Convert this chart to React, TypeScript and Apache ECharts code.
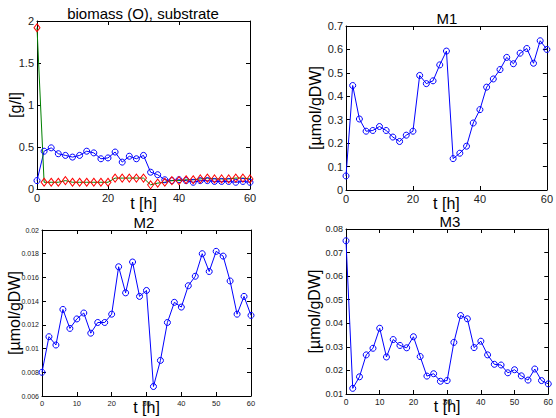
import { useEffect, useRef } from 'react';
import * as echarts from 'echarts';

// ---- data ----
const tHours = [0, 2, 4, 6, 8, 10, 12, 14, 16, 18, 20, 22, 24, 26, 28, 30, 32, 34, 36, 38, 40, 42, 44, 46, 48, 50, 52, 54, 56, 58, 60];

const biomass = [0.10, 0.45, 0.49, 0.42, 0.40, 0.38, 0.40, 0.45, 0.43, 0.36, 0.37, 0.44, 0.32, 0.39, 0.36, 0.40, 0.20, 0.17, 0.11, 0.10, 0.11, 0.10, 0.08, 0.10, 0.10, 0.09, 0.09, 0.09, 0.08, 0.09, 0.08];
const substrate = [1.92, 0.08, 0.08, 0.08, 0.10, 0.08, 0.08, 0.08, 0.08, 0.08, 0.08, 0.13, 0.13, 0.13, 0.13, 0.13, 0.05, 0.07, 0.08, 0.10, 0.10, 0.11, 0.11, 0.12, 0.13, 0.12, 0.12, 0.12, 0.13, 0.13, 0.12];
const m1 = [0.060, 0.446, 0.303, 0.251, 0.254, 0.271, 0.254, 0.226, 0.207, 0.234, 0.251, 0.489, 0.454, 0.466, 0.534, 0.593, 0.134, 0.157, 0.187, 0.286, 0.343, 0.439, 0.474, 0.514, 0.566, 0.539, 0.584, 0.604, 0.541, 0.637, 0.600];
const m2 = [0.0080, 0.0110, 0.0103, 0.0133, 0.0117, 0.0125, 0.0130, 0.0113, 0.0122, 0.0122, 0.0129, 0.0169, 0.0147, 0.0173, 0.0144, 0.0149, 0.0068, 0.0090, 0.0122, 0.0139, 0.0135, 0.0153, 0.0161, 0.0180, 0.0165, 0.0182, 0.0178, 0.0157, 0.0129, 0.0144, 0.0128];
const m3 = [0.075, 0.0124, 0.0173, 0.0266, 0.0294, 0.0379, 0.0257, 0.0331, 0.0306, 0.0296, 0.0343, 0.0259, 0.0176, 0.0186, 0.0154, 0.0157, 0.0319, 0.0433, 0.0419, 0.0297, 0.0324, 0.0266, 0.0226, 0.0223, 0.0190, 0.0203, 0.0177, 0.0159, 0.0206, 0.0157, 0.0143];

const xTicks20 = [0, 20, 40, 60];
const xTicks10 = [0, 10, 20, 30, 40, 50, 60];
const yTicksBio = [0, 0.5, 1, 1.5, 2];
const yTicksM1 = [0, 0.1, 0.2, 0.3, 0.4, 0.5, 0.6, 0.7];
const yTicksM2 = [0.006, 0.008, 0.01, 0.012, 0.014, 0.016, 0.018, 0.02];
const yTicksM3 = [0.01, 0.02, 0.03, 0.04, 0.05, 0.06, 0.07, 0.08];

const titles = ['biomass (O), substrate', 'M1', 'M2', 'M3'];
const xName = 't [h]';
const yNames = ['[g/l]', '[µmol/gDW]', '[µmol/gDW]', '[µmol/gDW]'];

// ---- layout / style ----
const FONT = '"Liberation Sans", Arial, Helvetica, sans-serif';

const panels = [
  { grid: { left: 37, top: 21, width: 213, height: 168 }, xTicks: xTicks20, yTicks: yTicksBio, xLab: 11, yLab: 11, yGap: 14, xGap: 6, dec: 1, title: { x: 143, y: 13 } },
  { grid: { left: 346, top: 26, width: 207, height: 164 }, xTicks: xTicks20, yTicks: yTicksM1, xLab: 11, yLab: 11, yGap: 23, xGap: 5, dec: 1, title: { x: 447, y: 18 } },
  { grid: { left: 42, top: 230, width: 209, height: 166 }, xTicks: xTicks10, yTicks: yTicksM2, xLab: 7.5, yLab: 7, yGap: 20, xGap: 3, dec: 3, title: { x: 144, y: 222 } },
  { grid: { left: 346, top: 229, width: 207, height: 165 }, xTicks: xTicks10, yTicks: yTicksM3, xLab: 8.5, yLab: 9, yGap: 24, xGap: 4, dec: 2, title: { x: 450, y: 221 } },
];

const tickCfg = { show: true, inside: true, length: 4, lineStyle: { color: '#000', width: 1 } };
const lineCfg = { show: true, onZero: false, lineStyle: { color: '#000', width: 1 } };

function range(ticks: number[]) {
  return { min: ticks[0], max: ticks[ticks.length - 1], interval: +(ticks[1] - ticks[0]).toFixed(6) };
}

function buildOption() {
  const xAxis: any[] = [];
  const yAxis: any[] = [];
  panels.forEach((p, i) => {
    const xr = range(p.xTicks);
    const yr = range(p.yTicks);
    xAxis.push({
      type: 'value', gridIndex: i, position: 'bottom', ...xr,
      axisLine: lineCfg, axisTick: tickCfg, splitLine: { show: false },
      axisLabel: { fontSize: p.xLab, color: '#222', margin: 3, fontFamily: FONT },
      name: xName, nameLocation: 'middle', nameGap: p.xGap, nameMoveOverlap: false,
      nameTextStyle: { fontSize: 16, color: '#000', fontFamily: FONT, verticalAlign: 'top' },
    });
    xAxis.push({
      type: 'value', gridIndex: i, position: 'top', ...xr,
      axisLine: lineCfg, axisTick: tickCfg, splitLine: { show: false }, axisLabel: { show: false },
    });
    yAxis.push({
      type: 'value', gridIndex: i, position: 'left', ...yr,
      axisLine: lineCfg, axisTick: tickCfg, splitLine: { show: false },
      axisLabel: {
        fontSize: p.yLab, color: '#222', margin: 3, fontFamily: FONT,
        formatter: (v: number) => String(+v.toFixed(p.dec)),
      },
      name: yNames[i], nameLocation: 'middle', nameGap: p.yGap, nameRotate: 90, nameMoveOverlap: false,
      nameTextStyle: { fontSize: 16, color: '#000', fontFamily: FONT },
    });
    yAxis.push({
      type: 'value', gridIndex: i, position: 'right', ...yr,
      axisLine: lineCfg, axisTick: tickCfg, splitLine: { show: false }, axisLabel: { show: false },
    });
  });

  const pts = (vals: number[]) => tHours.map((t, i) => [t, vals[i]]);
  const blueSeries = (vals: number[], gi: number) => ({
    type: 'line', xAxisIndex: gi * 2, yAxisIndex: gi * 2, data: pts(vals),
    symbol: 'circle', symbolSize: 6, showSymbol: true, silent: true,
    lineStyle: { color: '#0000ff', width: 1 },
    itemStyle: { color: 'rgba(0,0,0,0)', borderColor: '#0000ff', borderWidth: 1 },
  });

  const series: any[] = [
    blueSeries(biomass, 0),
    {
      type: 'line', xAxisIndex: 0, yAxisIndex: 0, data: pts(substrate),
      symbol: 'diamond', symbolSize: [6, 8], showSymbol: true, silent: true,
      lineStyle: { color: '#008000', width: 1 },
      itemStyle: { color: 'rgba(0,0,0,0)', borderColor: '#ff0000', borderWidth: 1 },
    },
    blueSeries(m1, 1),
    blueSeries(m2, 2),
    blueSeries(m3, 3),
  ];

  const graphic = panels.map((p, i) => ({
    type: 'text', x: p.title.x, y: p.title.y, silent: true,
    style: { text: titles[i], fontSize: 15, fontFamily: FONT, fill: '#000', align: 'center', verticalAlign: 'middle' },
  }));

  return {
    animation: false,
    backgroundColor: '#fff',
    grid: panels.map((p) => ({ ...p.grid, containLabel: false })),
    xAxis, yAxis, series, graphic,
  };
}

export default function App() {
  const ref = useRef<HTMLDivElement>(null);
  useEffect(() => {
    document.body.style.margin = '0';
    const chart = echarts.init(ref.current!, undefined, { renderer: 'svg' });
    chart.setOption(buildOption() as any);
    return () => chart.dispose();
  }, []);
  return <div ref={ref} style={{ width: 556, height: 418 }} />;
}
